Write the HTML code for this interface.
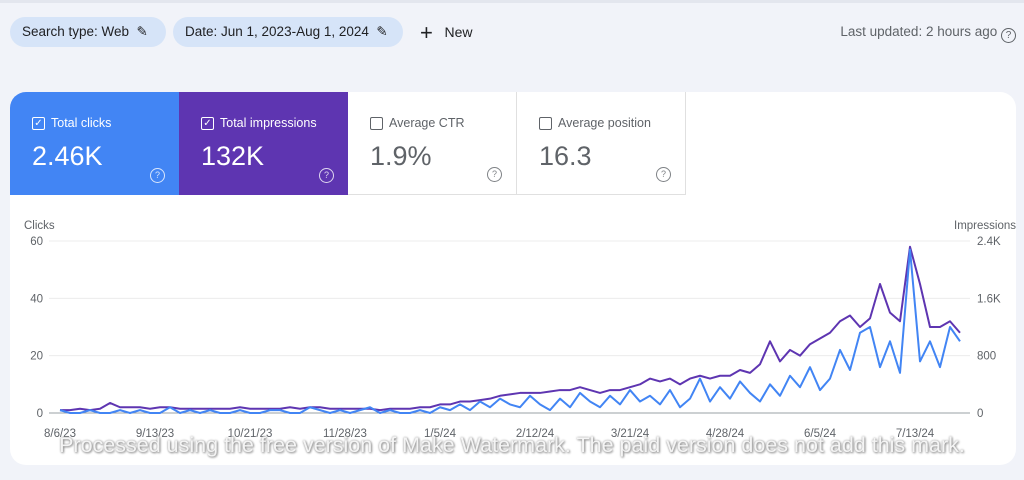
<!DOCTYPE html>
<html><head><meta charset="utf-8"><style>
body{margin:0;width:1024px;height:480px;background:#f1f3f9;font-family:"Liberation Sans",sans-serif;position:relative;overflow:hidden}
.chip{position:absolute;top:17px;height:30px;border-radius:15px;background:#d6e4f8;color:#202124;font-size:13.5px;line-height:30px;padding:0 12px;box-sizing:border-box}
.card{position:absolute;left:10px;top:92px;width:1006px;height:373px;background:#fff;border-radius:16px;overflow:hidden}
.tab{position:absolute;top:0;height:103px;width:169px;box-sizing:border-box;padding:24px 0 0 22px}
.tab .lab{font-size:12.5px;display:flex;align-items:center;gap:6px}
.tab .box{width:11px;height:11px;border:1.5px solid currentColor;border-radius:2px;font-size:10px;line-height:11px;text-align:center}
.tab .val{font-size:27px;margin-top:11px}
.tab .q{position:absolute;right:14px;bottom:12px;width:13px;height:13px;border:1.3px solid currentColor;border-radius:50%;font-size:9px;text-align:center;line-height:13px;opacity:.8}
</style></head><body>
<div style="position:absolute;left:0;top:0;width:1024px;height:3px;background:#e3e6ee"></div>
<div class="chip" style="left:10px;width:156px">Search type: Web &nbsp;✎</div>
<div class="chip" style="left:173px;width:230px">Date: Jun 1, 2023-Aug 1, 2024 &nbsp;✎</div>
<div style="position:absolute;left:420px;top:20px;font-size:14px;color:#202124"><span style="font-size:22px;vertical-align:-3px">+</span>&nbsp;&nbsp; New</div>
<div style="position:absolute;right:8px;top:24px;font-size:13.5px;color:#5f6368">Last updated: 2 hours ago <span style="display:inline-block;width:13px;height:13px;border:1.3px solid #5f6368;border-radius:50%;font-size:10px;text-align:center;line-height:13px;vertical-align:-2px">?</span></div>
<div class="card">
 <div class="tab" style="left:0;background:#4285f4;color:#fff"><div class="lab"><span class="box">✓</span>Total clicks</div><div class="val">2.46K</div><div class="q">?</div></div>
 <div class="tab" style="left:169px;background:#5e35b1;color:#fff"><div class="lab"><span class="box">✓</span>Total impressions</div><div class="val">132K</div><div class="q">?</div></div>
 <div class="tab" style="left:338px;color:#5f6368;border-right:1px solid #e0e0e0;border-bottom:1px solid #e0e0e0"><div class="lab"><span class="box"></span>Average CTR</div><div class="val">1.9%</div><div class="q">?</div></div>
 <div class="tab" style="left:507px;color:#5f6368;border-right:1px solid #e0e0e0;border-bottom:1px solid #e0e0e0"><div class="lab"><span class="box"></span>Average position</div><div class="val">16.3</div><div class="q">?</div></div>
</div>
<svg id="chart" width="1024" height="480" style="position:absolute;left:0;top:0"></svg>
<div style="position:absolute;left:0;width:1024px;top:433px;text-align:center;font-size:21.5px;color:#f4f4f4;text-shadow:0 0 2px #999,1px 1px 2px #888">Processed using the free version of Make Watermark. The paid version does not add this mark.</div>
<script>
const clicks=[1,0,0,1,0,0,1,0,1,0, 0,2,0,1,0,1,0,0,1,0, 0,1,1,0,0,2,1,0,1,0, 1,2,0,1,0,0,1,0,
2,1,3,1,4,2,5,3,2,6, 3,1,5,2,7,4,2,6,3,8, 4,6,3,8,2,5,12,4,9, 5,11,7,4,10,6,13,9,16,8, 12,22,15,28,30,16,25,14,57, 18,25,16,30,25];
const impressions=[40,40,60,40,60,140,80,80,80,60, 80,80,60,60,60,60,60,60,80,60, 60,60,60,80,60,80,80,60,60,60, 60,60,40,60,60,60,80,80,
120,120,160,160,180,200,240,260,280,280, 280,300,320,320,360,320,280,320,320,360, 400,480,440,480,400,480,520,480,520, 520,600,560,680,1000,720,880,800,960,1040, 1120,1280,1360,1200,1320,1800,1400,1280,2320, 1800,1200,1200,1280,1120];
const leftTicks=[0,20,40,60];
const rightTicks=["0","800","1.6K","2.4K"];
const dateLabels=["8/6/23","9/13/23","10/21/23","11/28/23","1/5/24","2/12/24","3/21/24","4/28/24","6/5/24","7/13/24"];
const dayStep=4;
const svg=document.getElementById('chart');const NS='http://www.w3.org/2000/svg';
const x=d=>60+d*2.5, yL=v=>413-v*172/60, yR=v=>413-v*172/2400;
function mk(t,a,txt){const e=document.createElementNS(NS,t);for(const k in a)e.setAttribute(k,a[k]);if(txt!=null)e.textContent=txt;svg.appendChild(e);return e;}
let e;
e=mk('text',{x:24,y:229,'font-size':11.5,fill:'#5f6368'},'Clicks');


e=mk('text',{x:1016,y:229,'font-size':11.5,fill:'#5f6368','text-anchor':'end'},'Impressions');


leftTicks.forEach((t,i)=>{const yy=yL(t);
 e=mk('line',{x1:49,x2:970,y1:yy,y2:yy,stroke:i?'#ececec':'#9aa0a6','stroke-width':1});
 
 
 e=mk('text',{x:43,y:yy+4,'font-size':11.5,fill:'#5f6368','text-anchor':'end'},t);
 
 
 e=mk('text',{x:977,y:yy+4,'font-size':11.5,fill:'#5f6368'},rightTicks[i]);
 
 
});
dateLabels.forEach((l,i)=>{e=mk('text',{x:x(i*38),y:437,'font-size':11.5,fill:'#5f6368','text-anchor':'middle'},l);
 
 });
e=mk('polyline',{points:impressions.map((v,i)=>x(i*dayStep)+','+yR(v)).join(' '),fill:'none',stroke:'#5e35b1','stroke-width':2,'stroke-linejoin':'round'});


e=mk('polyline',{points:clicks.map((v,i)=>x(i*dayStep)+','+yL(v)).join(' '),fill:'none',stroke:'#4285f4','stroke-width':2,'stroke-linejoin':'round'});


</script>
</body></html>
